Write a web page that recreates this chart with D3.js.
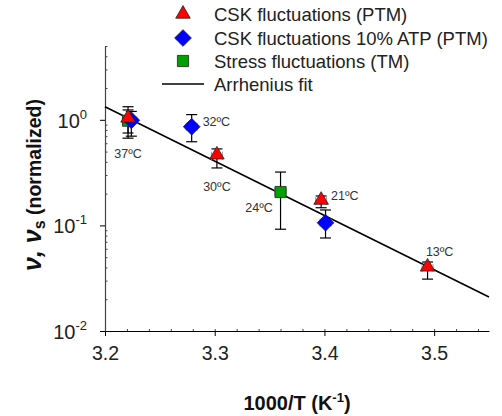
<!DOCTYPE html>
<html>
<head>
<meta charset="utf-8">
<script src="https://cdn.jsdelivr.net/npm/d3@7"></script>
<style>
  body { margin: 0; background: #fff; }
  text { font-family: "Liberation Sans", Arial, sans-serif; }
</style>
</head>
<body>
<div id="chart"></div>
<script>
// data
const cskPTM = [
  { x: 3.221, y: 1.02, lo: 0.75, hi: 1.24 },
  { x: 3.302, y: 0.456, lo: 0.35, hi: 0.53 },
  { x: 3.397, y: 0.17, lo: 0.147, hi: 0.19 },
  { x: 3.494, y: 0.0396, lo: 0.031, hi: 0.045 }
];
const csk10ATP = [
  { x: 3.224, y: 0.99, lo: 0.70, hi: 1.20 },
  { x: 3.279, y: 0.86, lo: 0.62, hi: 1.12 },
  { x: 3.401, y: 0.106, lo: 0.076, hi: 0.14 }
];
const stressTM = [
  { x: 3.221, y: 0.98, lo: 0.67, hi: 1.33 },
  { x: 3.360, y: 0.207, lo: 0.092, hi: 0.32 }
];
const xErr = 0.005;
const fitLine = [ { x: 3.2, y: 1.33 }, { x: 3.55, y: 0.021 } ];
const tempLabels = [
  { x: 3.221, y: 0.476, text: "37ºC", anchor: "middle" },
  { x: 3.289, y: 0.96, text: "32ºC", anchor: "start" },
  { x: 3.302, y: 0.232, text: "30ºC", anchor: "middle" },
  { x: 3.353, y: 0.147, text: "24ºC", anchor: "end" },
  { x: 3.406, y: 0.19, text: "21ºC", anchor: "start" },
  { x: 3.505, y: 0.056, text: "13ºC", anchor: "middle" }
];
const xTicks = [3.2, 3.3, 3.4, 3.5];
const yTicks = [0.01, 0.1, 1];
const yTickExp = ["-2", "-1", "0"];
const legendItems = ["CSK fluctuations (PTM)", "CSK fluctuations 10% ATP (PTM)", "Stress fluctuations (TM)", "Arrhenius fit"];

const W = 502, H = 416;
const mLeft = 105, mRight = 489, mTop = 46, mBottom = 331;

const svg = d3.select("#chart").append("svg")
  .attr("width", W).attr("height", H);

const x = d3.scaleLinear().domain([3.2, 3.55]).range([mLeft, mRight]);
const y = d3.scaleLog().domain([0.01, 5]).range([mBottom, mTop]);

// x axis
svg.append("g")
  .attr("transform", `translate(0,${mBottom})`)
  .call(d3.axisBottom(x).tickValues(d3.range(3.2, 3.551, 0.02)).tickSize(-2).tickFormat(""))
  .call(g => g.select(".domain").remove())
  .selectAll("line").attr("stroke", "#444");
const xg = svg.append("g")
  .attr("transform", `translate(0,${mBottom})`)
  .call(d3.axisBottom(x).tickValues(xTicks).tickSize(5).tickSizeOuter(0).tickPadding(10).tickFormat(d3.format(".1f")));
xg.select(".domain").attr("stroke", "#000").attr("stroke-width", 1.2);
xg.selectAll("text").attr("font-size", 19.5).attr("fill", "#222").attr("font-family", "Liberation Sans, Arial, sans-serif");

// y axis
const minor = [];
[0.01, 0.1, 1].forEach(d => { for (let k = 2; k <= 9; k++) if (d * k <= 5) minor.push(d * k); });
svg.append("g")
  .attr("transform", `translate(${mLeft},0)`)
  .call(d3.axisLeft(y).tickValues(minor).tickSize(-2.5).tickFormat(""))
  .call(g => g.select(".domain").remove())
  .selectAll("line").attr("stroke", "#444");
const yg = svg.append("g")
  .attr("transform", `translate(${mLeft},0)`)
  .call(d3.axisLeft(y).tickValues(yTicks).tickSize(5).tickSizeOuter(0).tickFormat(""));
yg.select(".domain").attr("stroke", "#444").attr("stroke-width", 1.2);

yTicks.forEach((t, i) => {
  const tx = svg.append("text")
    .attr("x", mLeft - 18).attr("y", y(t) + 8)
    .attr("text-anchor", "end").attr("font-size", 20).attr("fill", "#222");
  tx.append("tspan").text("10");
  tx.append("tspan").attr("font-size", 13).attr("dy", -9).text(yTickExp[i]);
});

// axis titles
const xt = svg.append("text")
  .attr("x", 297).attr("y", 410).attr("text-anchor", "middle")
  .attr("font-size", 20).attr("font-weight", "bold").attr("fill", "#111");
xt.append("tspan").text("1000/T (K");
xt.append("tspan").attr("font-size", 13).attr("dy", -8).text("-1");
xt.append("tspan").attr("dy", 8).text(")");

const yt = svg.append("text")
  .attr("transform", "translate(41,185) rotate(-90)")
  .attr("text-anchor", "middle").attr("font-weight", "bold").attr("fill", "#111");
yt.append("tspan").attr("font-size", 25).attr("font-style", "italic").text("ν, ν");
yt.append("tspan").attr("font-size", 16).attr("dy", 4).text("s");
yt.append("tspan").attr("font-size", 19.5).attr("dy", -4).text(" (normalized)");

// fit line
const line = d3.line().x(d => x(d.x)).y(d => y(d.y));
svg.append("path").datum(fitLine)
  .attr("d", line).attr("fill", "none").attr("stroke", "#000").attr("stroke-width", 1.6);

// error bars
function errBars(data) {
  const g = svg.append("g");
  data.forEach(d => {
    const cx = x(d.x);
    // horizontal (gray)
    g.append("line").attr("x1", x(d.x - xErr)).attr("x2", x(d.x + xErr))
      .attr("y1", y(d.y)).attr("y2", y(d.y)).attr("stroke", "#999");
    [d.x - xErr, d.x + xErr].forEach(v => g.append("line")
      .attr("x1", x(v)).attr("x2", x(v)).attr("y1", y(d.y) - 4).attr("y2", y(d.y) + 4).attr("stroke", "#999"));
    // vertical (black)
    g.append("line").attr("x1", cx).attr("x2", cx).attr("y1", y(d.lo)).attr("y2", y(d.hi))
      .attr("stroke", "#000").attr("stroke-width", 1.2);
    [d.lo, d.hi].forEach(v => g.append("line")
      .attr("x1", cx - 5.5).attr("x2", cx + 5.5).attr("y1", y(v)).attr("y2", y(v))
      .attr("stroke", "#000").attr("stroke-width", 1.2));
  });
}
errBars(stressTM);
errBars(csk10ATP);
errBars(cskPTM);

const triSym = d3.symbol().type(d3.symbolTriangle).size(92);
const sqSym = d3.symbol().type(d3.symbolSquare).size(125);
const diaSym = d3.symbol().type(d3.symbolSquare).size(140);

function drawMarks(data, path, fill, rot, dy) {
  svg.append("g").selectAll("path").data(data).join("path")
    .attr("d", path)
    .attr("transform", d => `translate(${x(d.x)},${y(d.y) + dy}) rotate(${rot})`)
    .attr("fill", fill).attr("stroke", "#222").attr("stroke-width", 0.8);
}
drawMarks(stressTM, sqSym(), "#00a000", 0, 0);
drawMarks(csk10ATP, diaSym(), "#0000ff", 45, 0);
drawMarks(cskPTM, triSym(), "#ff0000", 0, -1);

// temperature labels
svg.append("g").selectAll("text").data(tempLabels).join("text")
  .attr("x", d => x(d.x)).attr("y", d => y(d.y) + 4.5)
  .attr("text-anchor", d => d.anchor)
  .attr("font-size", 12.5).attr("fill", "#333")
  .text(d => d.text);

// legend
const lg = svg.append("g");
const rowY = [14, 38, 61, 84];
lg.append("path").attr("d", triSym()).attr("transform", `translate(183,${rowY[0]})`)
  .attr("fill", "#ff0000").attr("stroke", "#222").attr("stroke-width", 0.8);
lg.append("path").attr("d", diaSym()).attr("transform", `translate(183,${rowY[1]}) rotate(45)`)
  .attr("fill", "#0000ff").attr("stroke", "#222").attr("stroke-width", 0.8);
lg.append("path").attr("d", sqSym()).attr("transform", `translate(183,${rowY[2]})`)
  .attr("fill", "#00a000").attr("stroke", "#222").attr("stroke-width", 0.8);
lg.append("line").attr("x1", 162).attr("x2", 204).attr("y1", rowY[3]).attr("y2", rowY[3])
  .attr("stroke", "#000").attr("stroke-width", 1.6);
legendItems.forEach((t, i) => {
  lg.append("text").attr("x", 214).attr("y", rowY[i] + 6.5)
    .attr("font-size", 18.5).attr("fill", "#222").text(t);
});
</script>
</body>
</html>
